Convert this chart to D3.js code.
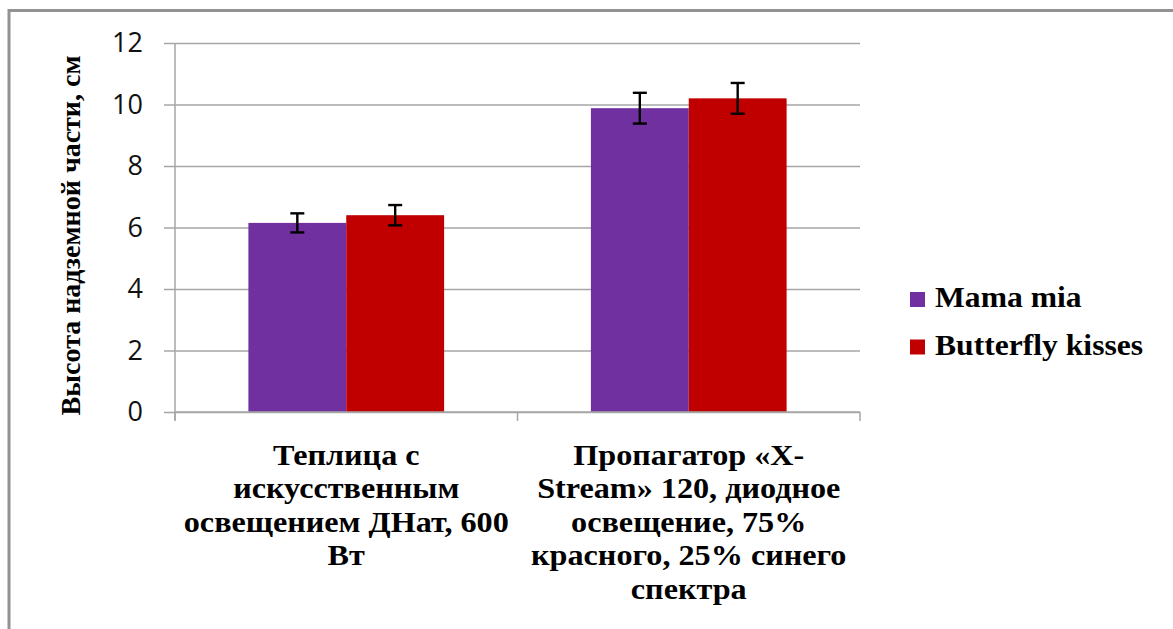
<!DOCTYPE html>
<html>
<head>
<meta charset="utf-8">
<script src="https://cdn.jsdelivr.net/npm/d3@7/dist/d3.min.js"></script>
<style>
  html, body { margin: 0; padding: 0; background: #ffffff; }
  svg { display: block; }
</style>
</head>
<body>
<script>
// Plant height by growing setup and variety
const categories = [
  "Теплица с\nискусственным\nосвещением ДНат, 600\nВт",
  "Пропагатор «X-\nStream» 120, диодное\nосвещение, 75%\nкрасного, 25% синего\nспектра"
];
const seriesNames = ["Mama mia", "Butterfly kisses"];
const mamaMia = [6.15, 9.88];
const butterflyKisses = [6.4, 10.2];
const mamaMiaErr = [0.31, 0.5];
const butterflyKissesErr = [0.33, 0.5];
const yTicks = [0, 2, 4, 6, 8, 10, 12];
const yTitle = "Высота надземной части, см";

const colors = ["#7030A0", "#C00000"];
const seriesValues = [mamaMia, butterflyKisses];
const seriesErr = [mamaMiaErr, butterflyKissesErr];

const W = 1173, H = 629;
const plot = { left: 175, right: 860, top: 43, bottom: 412 };
const serif = "'Liberation Serif', 'DejaVu Serif', serif";
const wide = 1.11; // horizontal widening of the bold serif labels

const svg = d3.select("body").append("svg")
  .attr("width", W).attr("height", H);

// Chart frame
svg.append("path")
  .attr("d", `M9,${H + 5} V10.5 H${W + 5}`)
  .attr("fill", "none")
  .attr("stroke", "#929292")
  .attr("stroke-width", 3);

const x0 = d3.scaleBand().domain(d3.range(categories.length))
  .range([plot.left, plot.right]);
const x1 = d3.scaleBand().domain(d3.range(seriesNames.length))
  .range([0, x0.bandwidth()])
  .paddingInner(0).paddingOuter(0.75);
const y = d3.scaleLinear().domain([0, 12]).range([plot.bottom, plot.top]);

// Horizontal gridlines and y axis
const yAxis = d3.axisLeft(y).tickValues(yTicks)
  .tickSize(-(plot.right - plot.left)).tickSizeOuter(0).tickPadding(32);
const gy = svg.append("g").attr("transform", `translate(${plot.left},0)`).call(yAxis);
gy.select(".domain").remove();
gy.selectAll(".tick line")
  .attr("x1", -11)
  .attr("stroke", "#a6a6a6").attr("stroke-width", 1.5);
gy.selectAll(".tick text")
  .attr("font-family", "'Open Sans', 'Noto Sans', sans-serif")
  .attr("font-size", 27).attr("fill", "#111");

// Vertical axis line
svg.append("line")
  .attr("x1", plot.left).attr("x2", plot.left)
  .attr("y1", plot.top).attr("y2", plot.bottom + 8)
  .attr("stroke", "#a6a6a6").attr("stroke-width", 1.5);

// Bars
const groups = svg.append("g").selectAll("g")
  .data(categories).join("g")
  .attr("transform", (d, i) => `translate(${x0(i)},0)`);

groups.each(function(cat, ci) {
  const g = d3.select(this);
  seriesNames.forEach((s, si) => {
    const v = seriesValues[si][ci];
    g.append("rect")
      .attr("x", x1(si)).attr("width", x1.bandwidth())
      .attr("y", y(v)).attr("height", y(0) - y(v))
      .attr("fill", colors[si]);
  });
});

// x axis baseline with category ticks
svg.append("line")
  .attr("x1", plot.left).attr("x2", plot.right)
  .attr("y1", plot.bottom).attr("y2", plot.bottom)
  .attr("stroke", "#a6a6a6").attr("stroke-width", 1.5);
const xBoundaries = [plot.left, ...d3.range(1, categories.length).map(i => x0(i)), plot.right];
svg.append("g").selectAll("line").data(xBoundaries).join("line")
  .attr("x1", d => d).attr("x2", d => d)
  .attr("y1", plot.bottom).attr("y2", plot.bottom + 9)
  .attr("stroke", "#a6a6a6").attr("stroke-width", 1.5);

// Error bars
groups.each(function(cat, ci) {
  const g = d3.select(this);
  seriesNames.forEach((s, si) => {
    const v = seriesValues[si][ci], e = seriesErr[si][ci];
    const cx = x1(si) + x1.bandwidth() / 2;
    const eb = g.append("g").attr("stroke", "#000").attr("stroke-width", 2.4);
    eb.append("line").attr("x1", cx).attr("x2", cx).attr("y1", y(v + e)).attr("y2", y(v - e));
    eb.append("line").attr("x1", cx - 7).attr("x2", cx + 7).attr("y1", y(v + e)).attr("y2", y(v + e));
    eb.append("line").attr("x1", cx - 7).attr("x2", cx + 7).attr("y1", y(v - e)).attr("y2", y(v - e));
  });
});

// Category labels
groups.append("g")
  .attr("transform", `translate(${x0.bandwidth() / 2},0) scale(${wide},1)`)
  .append("text")
  .attr("text-anchor", "middle")
  .attr("font-family", serif).attr("font-weight", "bold")
  .attr("font-size", 29).attr("fill", "#000")
  .selectAll("tspan")
  .data(d => d.split("\n")).join("tspan")
  .attr("x", 0)
  .attr("y", (d, i) => 465 + i * 33.5)
  .text(d => d);

// Y axis title
svg.append("text")
  .attr("transform", `translate(80,${(plot.top + plot.bottom) / 2 + 8}) rotate(-90)`)
  .attr("text-anchor", "middle")
  .attr("font-family", serif).attr("font-weight", "bold")
  .attr("font-size", 28).attr("fill", "#000")
  .text(yTitle);

// Legend
const legend = svg.append("g").attr("transform", "translate(910,292)");
const li = legend.selectAll("g").data(seriesNames).join("g")
  .attr("transform", (d, i) => `translate(0,${i * 47.5})`);
li.append("rect").attr("width", 15).attr("height", 15)
  .attr("fill", (d, i) => colors[i]);
li.append("text")
  .attr("transform", `translate(25,15) scale(1.09,1)`)
  .attr("font-family", serif).attr("font-weight", "bold")
  .attr("font-size", 29).attr("fill", "#000")
  .text(d => d);
</script>
</body>
</html>
